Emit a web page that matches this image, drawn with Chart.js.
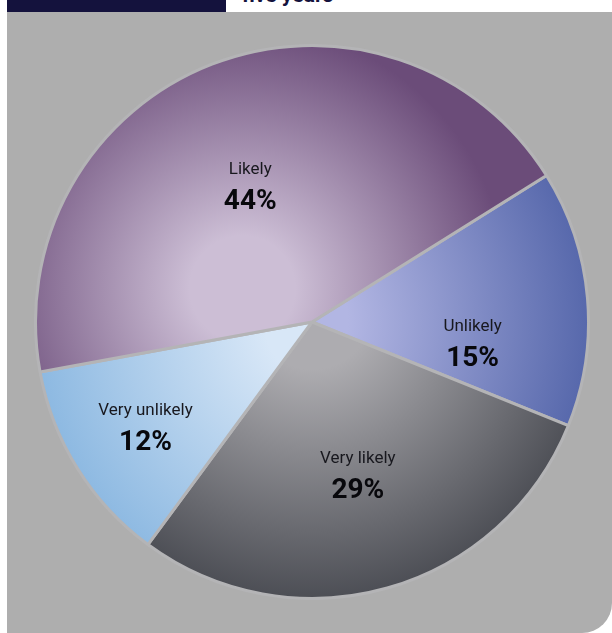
<!DOCTYPE html>
<html>
<head>
<meta charset="utf-8">
<script src="https://cdn.jsdelivr.net/npm/chart.js@4.4.1/dist/chart.umd.min.js"></script>
<style>
  html, body { margin: 0; padding: 0; background: #fff; width: 612px; height: 633px; overflow: hidden; }
  #bandeau { position: absolute; left: 7px; top: 0; width: 219px; height: 12px; background: #14123d; }
  #titre { position: absolute; left: 242px; top: -15px; font: bold 21px Roboto, sans-serif; line-height: 20px; color: #14123d; }
  #panneau { position: absolute; left: 7px; top: 12px; width: 605px; height: 621px; background: #aeaeae; border-bottom-right-radius: 30px; }
  #graphique { position: absolute; left: 34px; top: 44px; }
</style>
</head>
<body>
<div id="bandeau"></div>
<div id="titre">five years</div>
<div id="panneau"></div>
<canvas id="graphique" width="556" height="556"></canvas>
<script>
// data, clockwise from the upper-right boundary
const categories = ['Unlikely', 'Very likely', 'Very unlikely', 'Likely'];
const percentages = [15, 29, 12, 44];

// styles per slice: [inner colour, outer colour]
const tons = [
  ['#b2b6e3', '#5163a8'],
  ['#adacb0', '#46484f'],
  ['#d8e7f7', '#88b6e0'],
  ['#ccbed5', '#6b4c79'],
];
// radial gradient centre (fraction of radius) and extent
const foyers = [
  { dx: -0.1, dy: 0, r: 1.15 },
  { dx: 0, dy: -0.05, r: 1.1 },
  { dx: 0.05, dy: 0, r: 1.1 },
  { dx: -0.25, dy: -0.12, r: 0.95 },
];
// label placement: angle nudge (deg) from slice middle, distance (fraction of radius)
const decalagesAngle = [12, -1, 0, -3];
const distancesLabel = [0.585, 0.574, 0.71, 0.545];

const degrade = (contexte) => {
  const i = contexte.dataIndex;
  const { chart } = contexte;
  const zone = chart.chartArea;
  if (!zone) return tons[i][0];
  const cx = (zone.left + zone.right) / 2;
  const cy = (zone.top + zone.bottom) / 2;
  const rayon = Math.min(zone.width, zone.height) / 2;
  const f = foyers[i];
  const x = cx + f.dx * rayon;
  const y = cy + f.dy * rayon;
  const g = chart.ctx.createRadialGradient(x, y, 0, x, y, rayon * f.r);
  g.addColorStop(0, tons[i][0]);
  g.addColorStop(0.2, tons[i][0]);
  g.addColorStop(1, tons[i][1]);
  return g;
};

const etiquettes = {
  id: 'etiquettes',
  afterDatasetsDraw(chart) {
    const { ctx } = chart;
    chart.getDatasetMeta(0).data.forEach((arc, i) => {
      const { x, y, startAngle, endAngle, outerRadius } = arc.getProps(['x', 'y', 'startAngle', 'endAngle', 'outerRadius'], true);
      const a = (startAngle + endAngle) / 2 + (decalagesAngle[i] * Math.PI) / 180;
      const d = outerRadius * distancesLabel[i];
      const px = x + Math.cos(a) * d;
      const py = y + Math.sin(a) * d;
      ctx.save();
      ctx.textAlign = 'center';
      ctx.textBaseline = 'middle';
      ctx.fillStyle = '#18181e';
      ctx.font = '17px Roboto, sans-serif';
      ctx.fillText(categories[i], px, py - 15);
      ctx.fillStyle = '#08080c';
      ctx.font = 'bold 28px Roboto, sans-serif';
      ctx.fillText(`${percentages[i]}%`, px, py + 17);
      ctx.restore();
    });
  },
};

/* eslint-disable no-new */
new Chart(document.getElementById('graphique'), {
  type: 'pie',
  data: {
    labels: categories,
    datasets: [{
      data: percentages,
      backgroundColor: degrade,
      borderColor: '#b4b4b6',
      borderWidth: 3,
    }],
  },
  options: {
    responsive: false,
    animation: false,
    rotation: 58,
    layout: { padding: 0 },
    plugins: {
      legend: { display: false },
      tooltip: { enabled: false },
    },
  },
  plugins: [etiquettes],
});
/* eslint-enable no-new */
</script>
</body>
</html>
